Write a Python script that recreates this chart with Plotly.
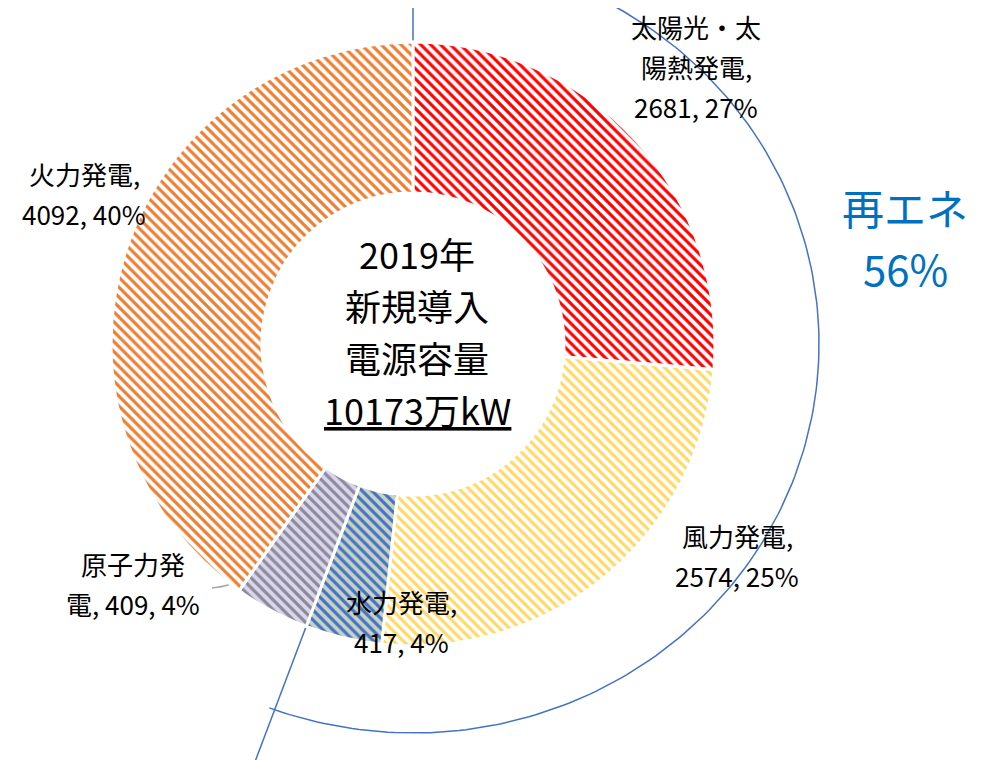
import numpy as np
import plotly.graph_objects as go

# data (万kW) - clockwise from 12 o'clock
sources = ['太陽光・太陽熱発電', '風力発電', '水力発電', '原子力発電', '火力発電']
capacity = [2681, 2574, 417, 409, 4092]
shown_pct = [27, 25, 4, 4, 40]   # percentages as printed on the chart
fg_colors = ['#FF0000', '#FFD966', '#4472C4', '#8C8A99', '#ED7D31']
bg_colors = ['#FFFFFF', '#FFFFFF', '#C7D3C4', '#DAD6EE', '#FFFFFF']
renewables = ['太陽光・太陽熱発電', '風力発電', '水力発電']
year = 2019

total = sum(capacity)
re_share = sum(v for s, v in zip(sources, capacity) if s in renewables) / total

# label lines as broken in the original chart
label_lines = [
    ['太陽光・太', '陽熱発電,', f'{capacity[0]}, {shown_pct[0]}%'],
    ['風力発電,', f'{capacity[1]}, {shown_pct[1]}%'],
    ['水力発電,', f'{capacity[2]}, {shown_pct[2]}%'],
    ['原子力発', f'電, {capacity[3]}, {shown_pct[3]}%'],
    ['火力発電,', f'{capacity[4]}, {shown_pct[4]}%'],
]
center_lines = [f'{year}年', '新規導入', '電源容量', f'<u>{total}万kW</u>']
re_lines = ['再エネ', f'{round(re_share * 100)}%']

# label centre (screen x, first line y)
label_pos = [(696, 26), (737, 535), (401, 601), (133, 563), (84, 173)]
line_gap = 40

W, H = 981, 760
OFF = 8   # page body margin: work in screen pixels
cx, cy, R = 413, 344, 302
FONT = 'Noto Sans CJK JP'

fig = go.Figure()

fig.add_trace(go.Pie(
    labels=sources,
    values=capacity,
    sort=False,
    direction='clockwise',
    rotation=0,
    hole=0.5,
    textinfo='none',
    showlegend=False,
    marker=dict(
        colors=fg_colors,
        line=dict(color='white', width=3),
        pattern=dict(shape='\\', fgcolor=fg_colors, bgcolor=bg_colors,
                     size=7, solidity=0.45, fillmode='replace'),
    ),
    domain=dict(x=[(cx - R - OFF) / W, (cx + R - OFF) / W],
                y=[1 - (cy + R - OFF) / H, 1 - (cy - R - OFF) / H]),
))

# renewables bracket: two radial lines and an outer arc
theta_end = re_share * 2 * np.pi
rx, ry = 406, 389
th = np.linspace(0, theta_end, 200)
fig.add_trace(go.Scatter(
    x=cx + rx * np.sin(th), y=cy - ry * np.cos(th),
    mode='lines', line=dict(color='#4472C4', width=1.5),
    hoverinfo='skip', showlegend=False))
for t in [0, theta_end]:
    r = np.array([R, 520])
    fig.add_trace(go.Scatter(
        x=cx + r * np.sin(t), y=cy - r * np.cos(t),
        mode='lines', line=dict(color='#4472C4', width=1.5),
        hoverinfo='skip', showlegend=False))

# leader line for nuclear label
fig.add_trace(go.Scatter(
    x=[212, 228, 244], y=[588, 585, 577],
    mode='lines', line=dict(color='#A6A6A6', width=1.5, shape='spline'),
    hoverinfo='skip', showlegend=False))

ann = []
for lines, (x0, y0) in zip(label_lines, label_pos):
    for i, s in enumerate(lines):
        ann.append(dict(x=x0, y=y0 + i * line_gap, text=s, showarrow=False,
                        xanchor='center', yanchor='middle',
                        font=dict(family=FONT, size=26, color='black')))

for i, s in enumerate(center_lines):
    ann.append(dict(x=cx + 4, y=253 + i * 52, text=s, showarrow=False,
                    xanchor='center', yanchor='middle',
                    font=dict(family=FONT, size=36, color='black')))

for i, s in enumerate(re_lines):
    ann.append(dict(x=905, y=206 + i * 61, text=s, showarrow=False,
                    xanchor='center', yanchor='middle',
                    font=dict(family=FONT, size=42, color='#0070C0')))

fig.update_layout(
    width=W, height=H,
    margin=dict(l=0, r=0, t=0, b=0),
    paper_bgcolor='white', plot_bgcolor='rgba(0,0,0,0)',
    xaxis=dict(range=[OFF, W + OFF], visible=False, fixedrange=True),
    yaxis=dict(range=[H + OFF, OFF], visible=False, fixedrange=True),
    annotations=ann,
)

fig.write_html('out.html')
